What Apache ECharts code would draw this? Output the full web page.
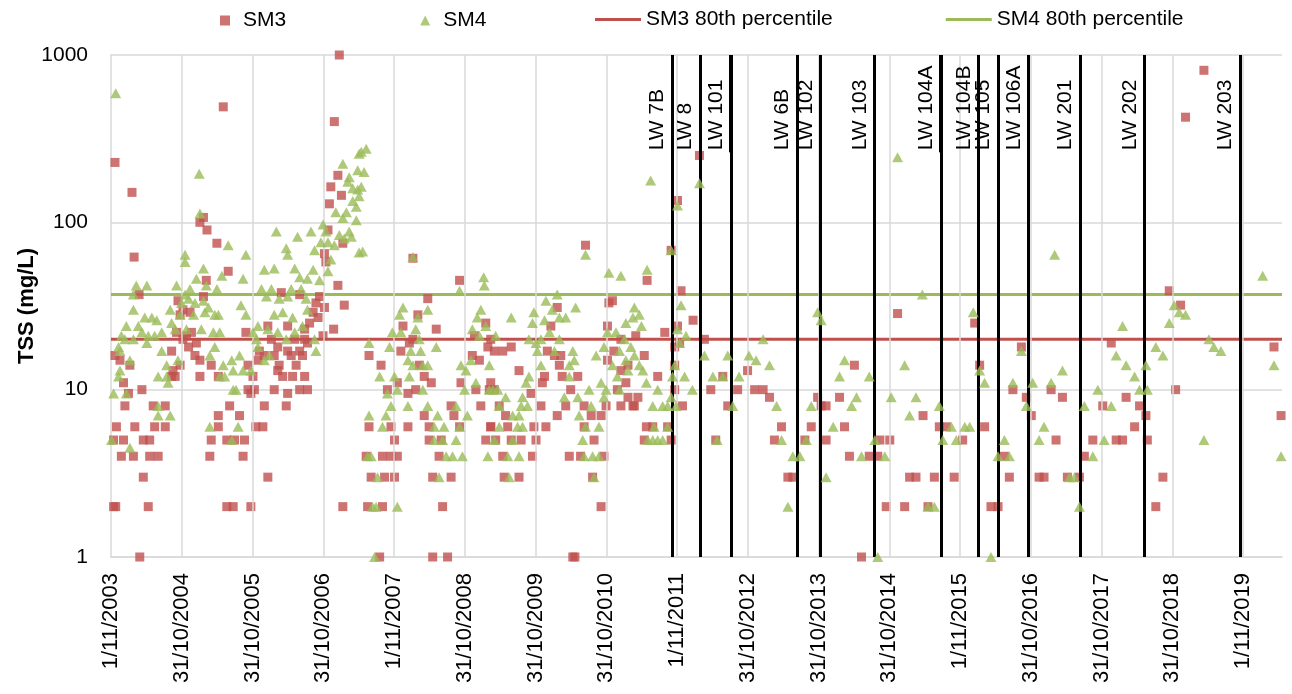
<!DOCTYPE html>
<html>
<head>
<meta charset="utf-8">
<title>TSS at SM3 and SM4</title>
<script src="https://cdn.jsdelivr.net/npm/echarts@6.0.0/dist/echarts.min.js"></script>
<style>
  html, body { margin: 0; padding: 0; background: #fff; }
  #main { width: 1292px; height: 694px; }
</style>
</head>
<body>
<div id="main"></div>
<script>
const chart = echarts.init(document.getElementById("main"));

const FONT = "Liberation Sans";
const RED = "#C0504D";
const GREEN = "#9BBB59";
const GRID_GREY = "#D9D9D9";

// x axis runs in years counted from the first tick (1 Nov 2003)
const START_YEAR = 2003 + 10 / 12;
const X_MAX = 16.55;
// log value where the mining labels start
const LW_LABEL_BASE = 262;

const tickLabels = [
  "1/11/2003", "31/10/2004", "31/10/2005", "31/10/2006", "1/11/2007",
  "31/10/2008", "31/10/2009", "31/10/2010", "1/11/2011", "31/10/2012",
  "31/10/2013", "31/10/2014", "1/11/2015", "31/10/2016", "31/10/2017",
  "31/10/2018", "1/11/2019",
];

const sm3P80 = 20;
const sm4P80 = 37;

const lwNames = ["LW 7B", "LW 8", "LW 101", "LW 6B", "LW 102", "LW 103", "LW 104A",
  "LW 104B", "LW 105", "LW 106A", "LW 201", "LW 202", "LW 203"];
const lwYears = [2011.76, 2012.16, 2012.59, 2013.53, 2013.86, 2014.62, 2015.56,
  2016.09, 2016.37, 2016.80, 2017.53, 2018.44, 2019.79];

// [decimal year, TSS mg/L]
const sm3 = [
  [2003.89,228],[2004.13,151],[2004.16,62],[2004.23,37],
  [2003.89,16],[2003.96,15],[2004.10,14],[2004.01,11],[2004.27,10],[2004.08,9.5],[2004.03,8],[2004.43,8],[2004.60,8],
  [2003.91,6],[2004.17,6],[2004.45,6],[2004.60,6],[2003.87,5],[2004.01,5],[2004.29,5],[2004.38,5],
  [2003.98,4],[2004.15,4],[2004.38,4],[2004.50,4],[2004.29,3],[2003.87,2],[2003.90,2],[2004.36,2],[2004.24,1],
  [2004.69,17],[2004.71,13],[2004.81,14],[2004.93,18],[2005.02,16],[2005.09,15],[2005.09,12],[2004.74,12],[2004.69,12],
  [2004.78,34],[2004.85,30],[2004.95,29],[2004.81,28],[2004.76,22],[2004.90,21],[2005.04,19],[2004.85,20],[2004.97,22],
  [2005.14,107],[2005.09,100],[2005.19,90],[2005.33,75],[2005.42,490],[2005.49,51],[2005.18,45],[2005.14,36],
  [2005.25,14],[2005.35,12],[2005.35,7],[2005.51,8],[2005.35,6],[2005.25,5],[2005.47,5],[2005.23,4],[2005.47,2],

  [2007.06,1000],[2006.99,400],[2007.04,191],[2006.94,163],[2007.09,145],[2006.92,129],[2007.11,75],[2006.90,90],
  [2006.85,65],[2006.87,58],[2007.04,42],[2007.13,32],[2006.98,23],[2006.24,38],[2006.50,37],[2006.78,36],
  [2006.73,33],[2006.85,31],[2006.69,29],[2006.76,27],[2006.64,25],[2006.83,21],[2006.57,23],[2005.74,22],
  [2006.05,24],[2006.33,24],[2006.10,20],[2006.43,20],[2006.57,20],[2006.19,18],[2006.33,17],[2006.50,17],
  [2006.61,19],[2005.93,17],[2006.00,16],[2006.14,16],[2006.38,16],[2006.54,16],[2005.77,14],[2005.91,15],
  [2006.21,14],[2006.45,14],[2006.19,13],[2006.26,12],[2006.40,12],[2006.57,12],[2005.84,12],[2005.77,10],
  [2005.86,10],[2006.14,10],[2006.50,10],[2006.61,10],[2005.81,9.5],[2006.00,8],[2006.33,9.5],[2006.31,8],
  [2005.65,7],[2005.88,6],[2005.98,6],[2005.72,5],[2005.58,5],[2005.70,4],[2006.05,3],[2005.56,2],[2005.81,2],[2007.11,2],

  [2008.10,61],[2008.76,45],[2008.31,35],[2008.17,28],[2007.96,24],[2008.43,23],[2007.93,17],[2008.05,19],
  [2007.48,16],[2008.10,20],[2009.13,25],[2009.16,18],[2008.97,21],[2008.94,16],[2009.04,15],[2008.19,14],
  [2007.65,14],[2008.26,12],[2008.36,11],[2008.14,10],[2007.74,10],[2008.78,11],[2008.99,10],[2009.18,10],
  [2008.03,9.5],[2007.88,11],[2008.64,8],[2009.06,8],[2008.26,7],[2008.68,7],[2007.48,6],[2007.79,6],
  [2008.03,6],[2008.33,6],[2008.76,6],[2009.20,6],[2007.84,5],[2008.33,5],[2008.50,5],[2009.13,5],
  [2007.44,4],[2007.67,4],[2007.79,4],[2007.88,4],[2008.47,4],[2007.51,3],[2007.70,3],[2007.84,3],
  [2008.38,3],[2008.64,3],[2007.46,2],[2007.67,2],[2008.52,2],[2007.63,1],[2008.38,1],[2008.59,1],

  [2010.54,73],[2010.92,34],[2010.87,33],[2010.85,24],[2010.05,24],[2010.14,31],[2009.20,20],[2009.25,17],
  [2009.37,17],[2009.49,18],[2010.00,17],[2010.10,16],[2010.19,16],[2010.17,14],[2010.85,15],[2010.94,17],
  [2009.60,13],[2009.96,12],[2009.93,11],[2009.20,11],[2009.25,10],[2010.21,12],[2010.43,12],[2010.33,10],
  [2010.99,10],[2009.77,9.5],[2009.91,8],[2009.32,8],[2010.26,8],[2010.52,8],[2010.83,8],[2011.04,8],
  [2009.41,7],[2010.14,7],[2010.62,7],[2010.76,7],[2009.20,6],[2009.44,6],[2009.81,6],[2009.98,6],
  [2010.52,6],[2009.27,5],[2009.49,5],[2009.63,5],[2009.84,5],[2010.66,5],[2009.37,4],[2009.79,4],
  [2010.31,4],[2010.47,4],[2010.80,4],[2009.39,3],[2009.60,3],[2010.64,3],[2010.76,2],[2010.36,1],[2010.39,1],

  [2012.15,251],[2011.84,135],[2011.75,68],[2011.41,45],[2011.89,39],[2012.06,26],[2011.84,24],[2011.66,22],
  [2012.22,20],[2011.25,21],[2011.04,20],[2011.37,16],[2011.80,18],[2011.87,19],[2011.14,14],[2011.04,13],
  [2011.56,12],[2011.80,14],[2012.83,13],[2012.48,12],[2011.11,11],[2011.80,10],[2012.31,10],[2012.69,10],
  [2011.14,9],[2011.28,9],[2011.21,8],[2011.23,8],[2011.91,8],[2012.55,8],[2011.40,6],[2011.70,6],[2011.49,6],
  [2011.37,5],[2011.75,5],[2012.38,5],

  [2012.93,10],[2013.05,10],[2013.14,9],[2013.31,6],[2013.21,5],[2013.64,5],[2013.73,6],[2013.40,3],
  [2013.47,3],[2013.82,9],[2013.87,8],[2013.94,8],[2014.13,9],[2014.20,6],[2013.94,5],[2014.34,14],
  [2014.27,4],[2014.55,4],[2014.67,4],[2014.44,1],

  [2014.95,28.5],[2014.70,5],[2014.84,5],[2014.79,2],[2015.05,2],[2015.12,3],[2015.21,3],[2015.31,7],
  [2015.47,3],[2015.38,2],[2015.54,6],[2015.64,6],[2015.75,3],[2015.87,5],[2016.04,25],[2016.11,14],
  [2016.18,6],[2016.27,2],[2016.37,2],[2016.46,4],[2016.53,3],[2016.58,10],

  [2016.70,18],[2016.77,9],[2016.84,7],[2017.12,10],[2017.28,9],[2017.19,5],[2016.95,3],[2017.02,3],
  [2017.35,3],[2017.52,3],[2017.59,4],[2017.71,5],[2017.85,8],[2017.97,19],[2018.04,5],[2018.13,5],
  [2018.18,9],[2018.30,6],[2018.37,8],[2018.46,7],[2018.48,5],

  [2019.28,810],[2019.02,425],[2018.79,39],[2018.95,32],[2020.27,18],[2018.88,10],[2020.37,7],[2018.70,3],[2018.60,2],
];

const sm4 = [
  [2003.90,590],[2005.08,195],[2005.09,113],[2005.49,73],[2004.88,64],[2004.88,58],[2005.14,53],[2005.04,46],
  [2005.40,48],[2004.19,42],[2004.34,42],[2004.76,42],[2005.18,42],[2005.33,40],[2004.15,37],[2004.95,40],
  [2004.88,37],[2004.93,35],[2004.83,33],[2005.02,33],[2005.14,34],[2005.21,31],[2005.16,29],[2004.15,30],
  [2004.67,30],[2004.81,28],[2005.00,28],[2004.31,27],[2004.41,27],[2004.48,26],[2004.05,24],[2005.30,28],
  [2005.35,28],[2004.22,24],[2004.27,22],[2004.69,25],[2004.74,23],[2004.90,23],[2005.11,23],[2005.28,22],
  [2005.37,22],[2003.98,21],[2004.03,20],[2004.15,20],[2004.36,21],[2004.45,21],[2004.55,22],[2004.34,19],
  [2003.94,18],[2003.96,17],[2005.30,18],[2004.55,17],[2005.23,16],[2004.10,15],[2004.78,15],[2005.42,14],
  [2005.54,15],[2003.96,13],[2003.94,12],[2004.62,14],[2004.50,12],[2004.62,12],[2004.64,11],[2005.37,12],
  [2005.44,12],[2005.56,10],[2003.87,9.5],[2004.05,9.5],[2004.50,8],[2004.50,7],[2004.67,7],[2005.23,6],
  [2003.84,5],[2004.10,4.5],[2005.54,5],

  [2007.11,224],[2007.34,257],[2007.20,186],[2007.18,175],[2007.32,205],[2007.25,160],[2007.32,157],[2007.25,134],
  [2007.30,124],[2007.16,115],[2007.30,103],[2007.01,115],[2007.11,106],[2006.17,88],[2006.47,82],[2006.66,88],
  [2006.83,97],[2006.87,88],[2007.20,88],[2007.06,84],[2007.23,82],[2007.13,80],[2006.80,76],[2006.90,76],
  [2006.99,73],[2006.71,68],[2006.31,70],[2006.33,64],[2007.34,66],[2005.74,64],[2006.94,60],[2006.90,51],
  [2006.00,52],[2006.14,53],[2006.43,53],[2006.69,52],[2006.50,47],[2006.61,46],[2006.78,45],[2005.70,46],
  [2005.96,40],[2006.10,40],[2006.38,40],[2006.52,40],[2006.03,36],[2006.21,35],[2006.33,36],[2006.59,35],
  [2005.67,32],[2006.14,28],[2006.26,29],[2006.61,30],[2005.74,28],[2006.40,27],[2006.54,24],[2005.91,24],
  [2006.05,23],[2006.19,22],[2006.43,22],[2005.84,22],[2005.89,20],[2006.31,20],[2006.71,20],[2005.91,18],
  [2006.73,17],[2006.00,15],[2006.07,16],[2005.65,16],[2005.56,13],[2005.70,13],[2005.81,13],[2005.60,10],[2005.63,6],

  [2007.44,275],[2007.37,264],[2007.41,200],[2007.37,163],[2007.34,143],[2007.39,67],[2008.10,62],[2009.10,47],
  [2009.11,42],[2008.76,39],[2008.31,30],[2007.96,31],[2007.91,28],[2008.17,27],[2009.06,30],[2009.01,27],
  [2009.13,24],[2007.81,22],[2007.93,22],[2008.14,23],[2008.19,20],[2008.94,23],[2009.04,21],[2007.48,19],
  [2007.77,18],[2008.43,18],[2008.07,17],[2008.21,17],[2008.03,15],[2008.92,15],[2008.78,14],[2009.18,14],
  [2008.10,14],[2008.24,14],[2008.31,14],[2007.63,12],[2007.84,12],[2008.05,12],[2008.85,13],[2008.99,11],
  [2007.88,10],[2008.24,10],[2008.83,10],[2009.18,10],[2007.74,9.5],[2007.79,8],[2008.03,8],[2008.31,8],
  [2008.71,8],[2007.48,7],[2007.72,7],[2008.45,7],[2008.87,7],[2008.40,6],[2008.54,6],[2008.76,6],
  [2007.67,6],[2008.40,5],[2008.52,5],[2008.71,5],[2007.46,4],[2007.51,4],[2008.57,4],[2008.66,4],
  [2008.80,4],[2009.16,4],[2007.60,3],[2008.47,3],[2007.53,2],[2007.58,2],[2007.88,2],[2007.56,1],

  [2010.54,64],[2010.87,50],[2011.04,48],[2010.14,37],[2009.98,34],[2010.40,31],[2009.81,29],[2010.07,30],
  [2010.17,27],[2009.49,27],[2009.79,25],[2010.26,27],[2009.96,26],[2010.03,22],[2010.85,22],[2010.97,22],
  [2009.74,20],[2009.84,19],[2009.91,20],[2010.17,20],[2009.27,21],[2009.86,17],[2010.10,17],[2010.36,17],
  [2010.69,16],[2010.80,18],[2010.38,15],[2009.91,14],[2010.31,14],[2010.92,14],[2009.74,12],[2010.31,12],
  [2010.99,12],[2009.70,11],[2009.23,10],[2009.30,10],[2010.59,10],[2010.76,11],[2010.83,10],[2011.02,10],
  [2009.41,9],[2009.65,9],[2010.24,9],[2010.43,9],[2010.80,9],[2009.32,8],[2009.63,8],[2009.72,8],
  [2010.62,8],[2009.51,7],[2009.60,7],[2010.45,7],[2009.32,6],[2009.58,6],[2009.65,6],[2010.54,6],
  [2010.73,6],[2009.25,5],[2009.51,5],[2010.50,5],[2009.44,4],[2009.60,4],[2010.52,4],[2010.64,4],
  [2010.73,4],[2009.46,3],[2010.66,3],

  [2011.46,178],[2012.15,171],[2011.84,126],[2011.75,68],[2011.41,52],[2011.89,32],[2011.23,31],[2011.30,28],
  [2011.11,25],[2011.21,27],[2011.33,24],[2011.84,23],[2011.96,21],[2011.09,20],[2011.87,19],[2011.18,18],
  [2012.22,16],[2012.55,16],[2011.02,17],[2011.11,15],[2011.23,16],[2011.30,14],[2011.35,13],[2011.80,14],
  [2011.14,13],[2011.94,12],[2012.34,12],[2012.48,12],[2012.71,12],[2012.85,16],[2011.40,11],[2011.56,10],
  [2012.05,10],[2011.77,12],[2011.75,9],[2011.49,8],[2011.63,8],[2011.70,8],[2011.82,8],[2012.62,8],
  [2011.51,6],[2011.70,6],[2011.42,5],[2011.49,5],[2011.56,5],[2011.63,5],[2012.40,5],

  [2013.05,20],[2012.95,15],[2013.14,14],[2013.24,8],[2013.31,5],[2013.47,4],[2013.57,4],[2013.66,5],
  [2013.40,2],[2013.82,29],[2013.87,26],[2013.73,8],[2014.04,6],[2013.94,3],[2014.13,12],[2014.20,15],
  [2014.37,9],[2014.30,8],[2014.44,4],[2014.55,12],[2014.63,5],[2014.67,1],

  [2014.95,245],[2015.30,37],[2015.05,14],[2014.86,9],[2015.21,9],[2015.12,7],[2015.54,8],[2015.71,6],
  [2015.90,6],[2015.97,6],[2015.59,5],[2015.78,5],[2014.77,4],[2015.38,2],[2015.47,2],[2016.02,29],
  [2016.11,13],[2016.18,11],[2016.27,1],[2016.46,5],[2016.37,4],[2016.53,4],[2016.58,11],

  [2017.17,64],[2018.13,24],[2016.70,17],[2017.28,13],[2016.86,11],[2017.12,11],[2016.77,8],[2017.02,6],
  [2016.95,5],[2017.38,3],[2017.45,3],[2017.52,2],[2017.59,8],[2017.71,4],[2017.78,10],[2017.87,5],
  [2017.97,8],[2018.04,16],[2018.18,14],[2018.30,12],[2018.37,10],[2018.46,14],[2018.48,10],

  [2020.11,48],[2018.86,32],[2018.93,29],[2019.02,28],[2018.79,25],[2018.60,18],[2018.70,16],[2019.35,20],
  [2019.42,18],[2019.52,17],[2020.27,14],[2019.28,5],[2020.37,4],
];

const toAxis = (pts) => pts.map((p) => [p[0] - START_YEAR, p[1]]);

// vertical gridlines at each date tick (skip the first, the y axis sits there)
const gridLines = tickLabels.slice(1).map((_, i) => ({ xAxis: i + 1 }));

// each longwall: full-height line, plus an overlapping upper segment that carries the label
const lwLines = [];
lwNames.forEach((name, i) => {
  const x = lwYears[i] - START_YEAR;
  lwLines.push({ xAxis: x, name: "" });
  lwLines.push([
    { coord: [x, LW_LABEL_BASE], name: name },
    { coord: [x, 1000] },
  ]);
});

const textStyle = { fontFamily: FONT, fontSize: 21, color: "#000" };

const option = {
  animation: false,
  textStyle: { fontFamily: FONT },
  grid: { left: 111, right: 10, top: 55, bottom: 137 },
  legend: [
    {
      data: [
        { name: "SM3", icon: "rect" },
        { name: "SM4", icon: "triangle" },
      ],
      left: 215,
      top: 5,
      itemWidth: 10,
      itemHeight: 10,
      itemGap: 134,
      selectedMode: false,
      textStyle: Object.assign({ padding: [0, 0, 0, 8] }, textStyle),
    },
    {
      data: [
        { name: "SM3 80th percentile", icon: "rect" },
        { name: "SM4 80th percentile", icon: "rect" },
      ],
      left: 590,
      top: 4,
      itemWidth: 46,
      itemHeight: 3,
      itemGap: 113,
      selectedMode: false,
      textStyle: textStyle,
    },
  ],
  xAxis: {
    type: "value",
    min: 0,
    max: X_MAX,
    interval: 1,
    axisLine: { lineStyle: { color: GRID_GREY, width: 1.5 } },
    axisTick: { show: false },
    splitLine: { show: false },
    axisLabel: {
      rotate: 90,
      margin: 16,
      fontFamily: FONT,
      fontSize: 22,
      color: "#000",
      showMinLabel: true,
      formatter: (v) => {
        const i = Math.round(v);
        return Math.abs(v - i) < 1e-6 && tickLabels[i] ? tickLabels[i] : "";
      },
    },
  },
  yAxis: {
    type: "log",
    logBase: 10,
    min: 1,
    max: 1000,
    name: "TSS (mg/L)",
    nameLocation: "middle",
    nameRotate: 90,
    nameGap: 73,
    nameMoveOverlap: false,
    nameTextStyle: { fontFamily: FONT, fontSize: 22, fontWeight: "bold", color: "#000" },
    axisLine: { show: true, lineStyle: { color: GRID_GREY, width: 1.5 } },
    axisTick: { show: false },
    splitLine: { show: true, lineStyle: { color: GRID_GREY, width: 1.5 } },
    axisLabel: {
      margin: 23,
      fontFamily: FONT,
      fontSize: 21,
      color: "#000",
      formatter: (v) => String(Math.round(v)),
    },
  },
  series: [
    {
      name: "grid",
      type: "line",
      data: [],
      z: 1,
      silent: true,
      markLine: {
        silent: true,
        symbol: ["none", "none"],
        label: { show: false },
        emphasis: { disabled: true },
        lineStyle: { color: GRID_GREY, width: 1.5, type: "solid" },
        data: gridLines,
      },
    },
    {
      name: "events",
      type: "line",
      data: [],
      z: 2,
      silent: true,
      markLine: {
        silent: true,
        symbol: ["none", "none"],
        emphasis: { disabled: true },
        lineStyle: { color: "#000", width: 3, type: "solid" },
        label: {
          show: true,
          position: "insideStartTop",
          formatter: (p) => p.name || "",
          distance: [2, 4],
          fontFamily: FONT,
          fontSize: 21,
          color: "#000",
        },
        data: lwLines,
      },
    },
    {
      name: "SM3 80th percentile",
      type: "line",
      data: [[0, sm3P80], [X_MAX, sm3P80]],
      symbol: "none",
      z: 3,
      lineStyle: { color: RED, width: 3 },
      itemStyle: { color: RED },
    },
    {
      name: "SM4 80th percentile",
      type: "line",
      data: [[0, sm4P80], [X_MAX, sm4P80]],
      symbol: "none",
      z: 3,
      lineStyle: { color: GREEN, width: 3 },
      itemStyle: { color: GREEN },
    },
    {
      name: "SM3",
      type: "scatter",
      data: toAxis(sm3),
      symbol: "rect",
      symbolSize: 9,
      z: 4,
      itemStyle: { color: RED },
    },
    {
      name: "SM4",
      type: "scatter",
      data: toAxis(sm4),
      symbol: "triangle",
      symbolSize: [11, 10],
      z: 5,
      itemStyle: { color: GREEN },
    },
  ],
};

chart.setOption(option);
</script>
</body>
</html>
